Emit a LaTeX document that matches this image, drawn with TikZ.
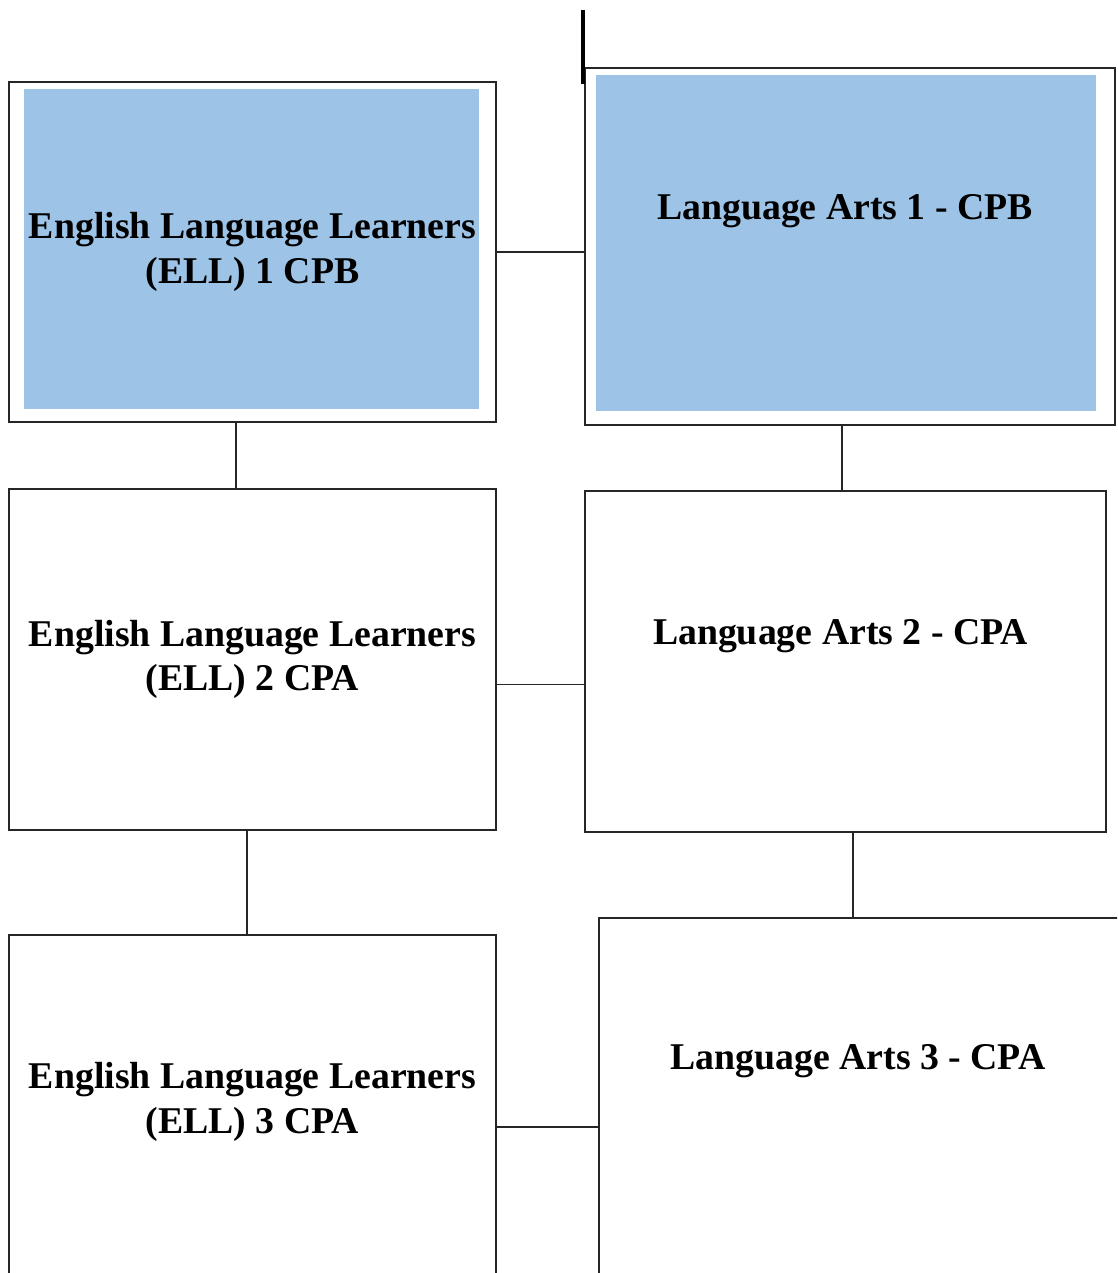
\documentclass[tikz,border=0pt]{standalone}
\usepackage{fontspec}
\setmainfont{Liberation Serif}
\usetikzlibrary{positioning}
\usetikzlibrary{calc}

\begin{document}
\begin{tikzpicture}
\definecolor{cellblue}{HTML}{9DC3E6}
\definecolor{edgegray}{HTML}{262626}
\tikzstyle{course}=[rectangle, draw=edgegray, fill=white, line width=1.1pt, inner sep=0pt]
\tikzstyle{course-text}=[draw=none, align=center, inner sep=0pt,
font=\bfseries\fontsize{21.5}{25.5}\selectfont]
\tikzstyle{link-edge}=[edgegray, line width=1.1pt]
\tikzstyle{top-edge}=[black, line width=1.8pt]

\useasboundingbox (0,0) rectangle (22.34,-25.46);
\clip (0,0) rectangle (22.34,-25.46);

% ELL column
\node[course, minimum width=9.74cm, minimum height=6.8cm] (ell1) at (5.05,-5.04) {};
\node[course, minimum width=9.74cm, minimum height=6.82cm] (ell2) at (5.05,-13.19) {};
\node[course, minimum width=9.74cm, minimum height=9.4cm] (ell3) at (5.05,-23.4) {};

% Language Arts column
\node[course, minimum width=10.6cm, minimum height=7.14cm] (la1) at (17.0,-4.93) {};
\node[course, minimum width=10.42cm, minimum height=6.82cm] (la2) at (16.91,-13.23) {};
\node[course, minimum width=10.82cm, minimum height=9.64cm] (la3) at (17.39,-23.18) {};

\fill[cellblue] ([shift={(0.32,-0.16)}]ell1.north west) rectangle ([shift={(-0.36,0.28)}]ell1.south east);
\fill[cellblue] ([shift={(0.24,-0.16)}]la1.north west) rectangle ([shift={(-0.4,0.3)}]la1.south east);

\node[course-text] (tell1) at (ell1.center) {English Language Learners\\(ELL) 1 CPB};
\node[course-text] (tell2) at (ell2.center) {English Language Learners\\(ELL) 2 CPA};
\node[course-text] (tell3) at ([yshift=-3.36cm]ell3.north) {English Language Learners\\(ELL) 3 CPA};
\node[course-text] (tla1) at ([shift={(-0.1,0.7)}]la1.center) {Language Arts 1 - CPB};
\node[course-text] (tla2) at ([shift={(-0.1,0.5)}]la2.center) {Language Arts 2 - CPA};
\node[course-text] (tla3) at ([shift={(-0.23,-2.88)}]la3.north) {Language Arts 3 - CPA};

\coordinate (topin) at (11.66,-0.2);
\draw[style=top-edge] (topin) -- ([yshift=-3.4mm]topin |- la1.north);

\draw[style=link-edge] (ell1.east) -- (ell1.east -| la1.west);
\draw[style=link-edge] ([xshift=-3.3mm]ell1.south) -- ([xshift=-3.3mm]ell1.south |- ell2.north);
\draw[style=link-edge] ([xshift=-1.6mm]la1.south) -- ([xshift=-1.6mm]la1.south |- la2.north);
\draw[style=link-edge] ([yshift=-5mm]ell2.east) -- ([yshift=-5mm]ell2.east -| la2.west);
\draw[style=link-edge] ([xshift=-1.1mm]ell2.south) -- ([xshift=-1.1mm]ell2.south |- ell3.north);
\draw[style=link-edge] ([xshift=1.5mm]la2.south) -- ([xshift=1.5mm]la2.south |- la3.north);
\draw[style=link-edge] ([yshift=-3.86cm]ell3.north east) -- ([yshift=-3.86cm]ell3.north east -| la3.west);

\end{tikzpicture}
\end{document}
